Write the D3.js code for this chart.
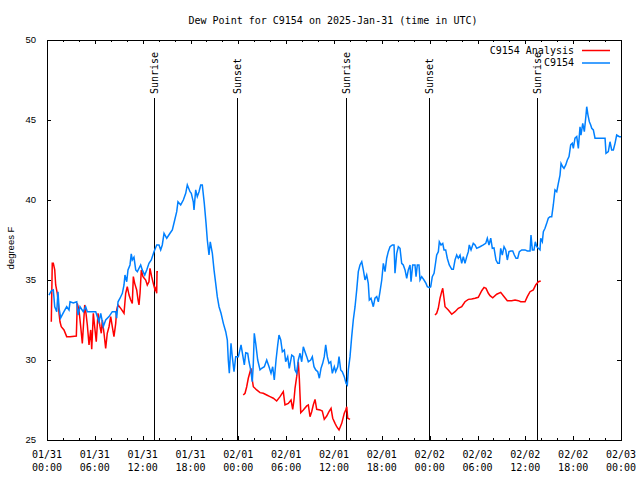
<!DOCTYPE html>
<html>
<head>
<meta charset="utf-8">
<script src="https://cdn.jsdelivr.net/npm/d3@7"></script>
<style>
  html, body { margin: 0; padding: 0; background: #fff; }
  svg { display: block; }
  text { font-family: "DejaVu Sans Mono", monospace; font-size: 10px; fill: #000; }
  .sans { font-family: "Liberation Sans", Arial, sans-serif; font-size: 9.5px; }
</style>
</head>
<body>
<script>
// ---------- DATA (hours since 2025-01-31 00:00 UTC, dew point in °F) ----------
const titleText = "Dew Point for C9154 on 2025-Jan-31 (time in UTC)";
const yLabel = "degrees F";
const seriesNames = ["C9154 Analysis", "C9154"];

const stationHours = [0.25,0.54,0.79,0.97,1.22,1.38,1.51,1.72,2.04,2.47,2.76,2.89,3.30,3.73,3.89,4.14,4.55,4.85,5.06,6.11,
  6.52,6.74,7.06,7.36,7.78,8.19,8.62,8.74,8.91,9.16,9.45,9.66,9.78,10.0,10.16,10.41,10.57,10.70,10.91,11.13,
  11.33,11.75,11.95,12.26,12.51,12.79,13.08,13.42,13.76,14.05,14.26,14.46,14.68,15.02,15.43,15.72,16.02,16.27,16.43,16.77,
  17.10,17.40,17.60,17.94,18.10,18.35,18.44,18.65,18.85,19.07,19.28,19.48,19.73,19.95,20.11,20.32,20.48,20.74,20.95,21.16,
  21.36,21.58,21.83,22.12,22.42,22.62,22.74,22.87,23.08,23.24,23.46,23.67,24.0,24.34,24.55,24.75,24.93,25.18,25.34,25.55,
  25.75,25.88,26.0,26.18,26.43,26.72,26.93,27.26,27.56,27.85,28.10,28.31,28.51,28.73,28.94,29.10,29.32,29.52,29.77,29.94,
  30.19,30.39,30.70,30.95,31.11,31.32,31.52,31.74,31.95,32.15,32.36,32.58,32.78,33.08,33.28,33.49,33.71,33.96,34.16,34.37,
  34.58,34.78,34.96,35.16,35.37,35.59,35.79,36.04,36.21,36.47,36.63,36.84,37.04,37.29,37.51,37.67,37.80,38.01,38.22,38.42,
  38.64,38.85,39.05,39.26,39.48,39.68,39.89,40.10,40.30,40.43,40.64,40.93,41.14,41.36,41.56,41.77,41.99,42.19,42.40,42.61,
  42.81,43.03,43.32,43.53,43.65,43.87,44.07,44.28,44.49,44.69,44.91,45.12,45.32,45.54,45.66,45.87,46.16,46.29,46.45,46.66,
  46.79,47.00,47.29,47.54,47.71,47.96,48.13,48.33,48.55,48.76,48.88,49.09,49.21,49.42,49.64,49.80,50.01,50.21,50.46,50.77,
  50.97,51.18,51.39,51.59,51.81,52.02,52.22,52.43,52.65,52.85,52.97,53.19,53.47,53.69,53.90,54.31,54.73,55.03,55.23,55.44,
  55.66,55.86,56.07,56.32,56.54,56.74,56.91,57.11,57.33,57.54,57.74,57.95,58.17,58.42,58.62,58.83,59.04,59.25,59.55,59.96,
  60.25,60.59,60.71,60.88,61.09,61.25,61.43,61.63,61.84,61.93,62.13,62.26,62.47,62.68,62.88,63.10,63.31,63.51,63.72,63.94,
  64.14,64.35,64.48,64.69,64.85,65.07,65.27,65.48,65.69,65.89,66.02,66.23,66.45,66.65,66.86,66.98,67.20,67.40,67.61,67.70,
  67.86,68.03,68.20,68.33,68.53,68.74,70.0,70.12,70.41,70.62,70.83,71.04,71.25,71.46,71.79,72.0];
const stationDew = [34.06,34.33,34.38,33.33,33.02,34.27,33.25,32.63,32.94,33.33,33.13,33.64,33.56,33.64,32.81,33.33,33.02,33.33,33.02,33.02,
  32.39,32.92,32.08,32.5,32.71,33.02,33.02,32.61,33.64,33.86,34.17,34.69,35.31,34.89,35.63,35.94,36.63,36.25,36.42,35.63,
  35.52,35.94,35.63,35.31,35.63,36.04,36.25,36.77,37.19,37.19,36.88,37.19,37.92,37.61,37.92,38.13,38.75,39.27,39.89,39.69,
  40.0,40.42,40.94,40.52,40.42,39.89,39.38,40.63,40.21,40.52,40.94,40.94,39.79,38.54,37.5,36.56,37.39,36.67,35.63,34.79,
  33.96,33.33,32.92,32.29,31.77,31.25,30.0,29.17,31.04,30.21,29.27,30.21,30.21,30.94,30.31,29.69,30.46,30.42,29.89,29.38,
  28.64,29.79,31.67,31.04,30.0,29.38,29.48,29.58,30.0,29.58,29.17,29.58,28.75,30.0,30.94,31.56,31.25,30.52,30.63,29.89,
  30.21,29.48,30.31,30.21,29.38,29.17,30.0,30.42,29.89,30.83,30.52,30.21,29.89,30.0,30.21,29.58,29.38,29.27,28.86,29.48,
  29.79,30.21,30.94,30.21,29.79,29.89,29.17,29.58,29.27,29.58,30.21,29.38,29.27,28.96,28.54,28.44,29.38,30.21,31.46,32.5,
  33.33,34.38,35.52,35.94,36.14,35.63,35.0,35.31,34.79,33.75,33.86,33.33,33.86,33.96,33.64,34.27,35.0,36.04,35.52,36.36,
  36.77,37.08,37.19,37.19,35.42,36.67,37.08,36.98,36.04,35.94,35.63,35.11,35.63,35.94,34.89,35.94,35.94,35.21,35.94,35.94,
  35.0,35.21,35.0,34.79,34.58,34.52,34.58,35.21,35.42,36.14,36.56,36.77,37.39,37.19,37.29,36.88,36.88,36.36,35.94,35.67,
  35.67,36.25,36.56,36.36,36.56,36.04,36.46,36.04,36.46,36.77,37.19,36.88,37.29,37.19,36.98,37.08,37.19,37.29,37.61,37.19,
  37.61,36.98,37.0,36.25,36.04,36.04,36.98,36.56,37.08,36.88,36.25,36.77,36.81,36.81,36.56,36.36,36.36,36.77,36.88,36.88,
  36.81,36.81,37.81,36.88,36.88,37.39,37.08,36.98,36.88,37.61,37.39,38.02,38.23,38.54,38.86,38.96,38.96,39.69,40.63,40.52,
  41.04,41.56,42.29,42.08,41.98,42.19,42.5,42.71,43.44,43.54,43.23,43.86,43.96,43.23,44.58,44.06,44.79,44.27,45.31,45.83,
  45.31,44.89,44.69,44.48,44.38,43.86,43.86,42.92,43.02,43.64,43.13,43.13,43.54,44.06,43.96,43.96];

// Analysis series: null marks a gap in the record
const analysisHours = [0.54,0.66,0.79,0.97,1.09,1.29,1.42,1.51,1.63,1.79,2.13,2.47,2.89,3.68,3.80,4.01,4.23,4.43,4.55,4.73,
  4.89,5.06,5.27,5.48,5.61,5.81,5.98,6.18,6.40,6.65,6.81,6.94,7.15,7.36,7.56,7.78,7.99,8.19,8.40,8.62,
  8.74,8.91,9.25,9.66,9.87,10.07,10.29,10.50,10.70,10.83,11.0,11.25,11.42,11.54,11.67,11.83,12.04,12.38,12.58,12.79,
  12.92,13.13,13.33,13.55,13.64,13.76,13.80,13.92, null,
  24.62,24.84,25.05,25.25,25.59,25.75,25.88,26.30,26.72,27.13,27.56,27.97,28.39,28.81,29.23,29.64,29.85,30.27,30.61,30.82,
  30.98,31.11,31.32,31.52,31.65,31.83,32.15,32.58,32.78,32.99,33.20,33.40,33.62,33.83,34.25,34.53,34.78,35.09,35.37,35.63,
  35.84,36.13,36.34,36.63,36.97,37.29,37.47,37.60,37.72,38.01, null,
  48.67,48.88,49.08,49.30,49.51,49.64,49.80,49.93,50.34,50.77,51.18,51.59,52.02,52.43,52.85,53.27,53.69,54.10,54.53,54.82,
  55.07,55.36,55.57,55.91,56.41,56.91,57.24,57.74,58.29,58.71,59.12,59.42,59.96,60.25,60.59,61.0,61.30,61.63,61.93];
const analysisDew = [32.39,36.04,36.04,35.63,34.69,34.17,33.54,32.92,32.39,32.08,31.88,31.46,31.46,31.5,33.54,33.13,32.08,31.04,31.98,33.44,
  32.92,32.19,30.94,31.88,30.67,32.92,32.08,31.14,32.92,32.08,31.67,32.5,31.67,30.73,31.67,32.08,32.71,32.08,31.46,32.29,
  33.13,33.44,33.23,32.92,34.17,34.58,34.06,33.75,33.54,35.21,34.79,34.38,33.75,33.44,34.17,35.63,35.21,35.0,34.69,34.89,
  35.73,35.21,34.79,34.38,34.48,34.17,35.52,35.52, null,
  27.81,27.92,28.33,28.86,29.48,28.75,28.33,28.13,27.96,27.92,27.81,27.71,27.61,27.44,27.71,28.02,27.19,27.29,27.5,26.92,
  27.5,28.23,28.96,29.89,28.86,26.71,26.88,27.13,27.19,26.46,26.77,27.19,27.54,26.92,26.88,26.81,26.29,26.5,26.77,26.98,
  26.36,26.04,25.83,25.63,26.04,26.67,26.88,27.08,26.36,26.29, null,
  32.81,32.92,33.23,33.86,34.27,34.48,33.86,33.33,33.13,32.86,33.02,33.23,33.33,33.64,33.79,33.81,33.86,33.92,34.33,34.54,
  34.48,34.17,34.02,33.89,34.11,34.23,34.02,33.71,33.71,33.75,33.71,33.64,33.64,33.96,34.27,34.38,34.69,34.89,34.94];

const sunEvents = ["Sunrise", "Sunset", "Sunrise", "Sunset", "Sunrise"];
const sunHours = [13.42, 23.87, 37.47, 47.96, 61.50];

const yTicks = [25, 30, 35, 40, 45, 50];
const xMajorHours = [0, 6, 12, 18, 24, 30, 36, 42, 48, 54, 60, 66, 72];
const xMinorHours = d3.range(0, 73, 2);

// ---------- LAYOUT ----------
const W = 640, H = 480;
const L = 47, R = 621, T = 40, B = 440;
const START = Date.UTC(2025, 0, 31);
const toDate = h => new Date(START + h * 3600000);

const x = d3.scaleUtc().domain([toDate(0), toDate(72)]).range([L, R]);
const y = d3.scaleLinear().domain([25, 50]).range([B, T]);

const svg = d3.select("body").append("svg").attr("width", W).attr("height", H);

// title
svg.append("text").attr("x", 333).attr("y", 20).attr("dy", "0.35em")
  .attr("text-anchor", "middle").text(titleText);

// y label
svg.append("text").attr("class", "sans")
  .attr("transform", "translate(11,248) rotate(-90)")
  .attr("text-anchor", "middle").attr("dy", "0.35em").text(yLabel);

// axes ticks (inward, mirrored)
const fmtUTC = d3.utcFormat("%m/%d");
const fmtHM = d3.utcFormat("%H:%M");
const gx = svg.append("g");
gx.append("g").attr("transform", `translate(0,${B})`)
  .call(d3.axisBottom(x).tickValues(xMinorHours.map(toDate)).tickSize(-2).tickFormat(""));
gx.append("g").attr("transform", `translate(0,${B})`)
  .call(d3.axisBottom(x).tickValues(xMajorHours.map(toDate)).tickSize(-4).tickFormat(""));
gx.append("g").attr("transform", `translate(0,${T})`)
  .call(d3.axisTop(x).tickValues(xMinorHours.map(toDate)).tickSize(-2).tickFormat(""));
gx.append("g").attr("transform", `translate(0,${T})`)
  .call(d3.axisTop(x).tickValues(xMajorHours.map(toDate)).tickSize(-4).tickFormat(""));
gx.append("g").attr("transform", `translate(${L},0)`)
  .call(d3.axisLeft(y).tickValues(yTicks).tickSize(-4).tickFormat(""));
gx.append("g").attr("transform", `translate(${R},0)`)
  .call(d3.axisRight(y).tickValues(yTicks).tickSize(-4).tickFormat(""));
gx.selectAll(".domain").remove();
gx.selectAll("line").attr("stroke", "#000").attr("stroke-width", 1).attr("shape-rendering", "crispEdges");

// x labels (two lines)
const xl = svg.append("g").selectAll("g").data(xMajorHours).join("g")
  .attr("transform", h => `translate(${x(toDate(h))},0)`);
xl.append("text").attr("y", 454).attr("dy", "0.35em").attr("text-anchor", "middle").text(h => fmtUTC(toDate(h)));
xl.append("text").attr("y", 467).attr("dy", "0.35em").attr("text-anchor", "middle").text(h => fmtHM(toDate(h)));

// y labels
svg.append("g").selectAll("text").data(yTicks).join("text").attr("class", "sans")
  .attr("x", 36).attr("y", d => y(d)).attr("dy", "0.35em").attr("text-anchor", "end").text(d => d);

// sun lines
const sun = svg.append("g").selectAll("g").data(sunHours).join("g");
sun.append("line")
  .attr("x1", h => Math.round(x(toDate(h))) + 0.5).attr("x2", h => Math.round(x(toDate(h))) + 0.5)
  .attr("y1", 98).attr("y2", B).attr("stroke", "#000").attr("stroke-width", 1);
sun.append("text")
  .attr("transform", h => `translate(${x(toDate(h)) + 0.5},94) rotate(-90)`)
  .attr("text-anchor", "start").attr("dy", "0.35em").text((h, i) => sunEvents[i]);

// data lines
const stationData = stationHours.map((h, i) => ({ t: toDate(h), v: stationDew[i] }));
const analysisData = analysisHours.map((h, i) => ({ t: h == null ? null : toDate(h), v: analysisDew[i] }));

const line = d3.line().defined(d => d.t != null && d.v != null).x(d => x(d.t)).y(d => y(d.v));

svg.append("path").datum(analysisData).attr("d", line)
  .attr("fill", "none").attr("stroke", "#ff0000").attr("stroke-width", 1.5);
svg.append("path").datum(stationData).attr("d", line)
  .attr("fill", "none").attr("stroke", "#0080ff").attr("stroke-width", 1.5);

// frame
svg.append("rect").attr("x", L + 0.5).attr("y", T + 0.5).attr("width", R - L).attr("height", B - T)
  .attr("fill", "none").attr("stroke", "#000").attr("stroke-width", 1);

// legend
const legColors = ["#ff0000", "#0080ff"];
const leg = svg.append("g").selectAll("g").data(seriesNames).join("g")
  .attr("transform", (d, i) => `translate(0,${50 + i * 12.5})`);
leg.append("text").attr("x", 574).attr("dy", "0.35em").attr("text-anchor", "end").text(d => d);
leg.append("line").attr("x1", 582).attr("x2", 610).attr("y1", 0.5).attr("y2", 0.5)
  .attr("stroke", (d, i) => legColors[i]).attr("stroke-width", 1.5);
</script>
</body>
</html>
